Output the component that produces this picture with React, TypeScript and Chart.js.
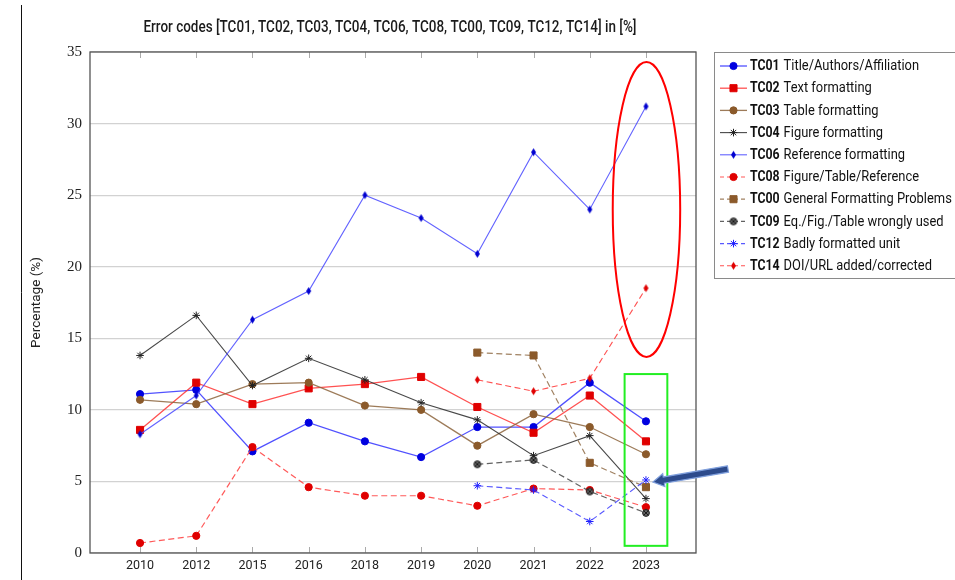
import React, { useEffect, useRef } from 'react';
import { Chart, registerables } from 'chart.js';
import { drawPoint } from 'chart.js/helpers';

Chart.register(...registerables);

// ---------- data ----------
const years = ['2010', '2012', '2015', '2016', '2018', '2019', '2020', '2021', '2022', '2023'];
const codes = ['TC01', 'TC02', 'TC03', 'TC04', 'TC06', 'TC08', 'TC00', 'TC09', 'TC12', 'TC14'];
const descriptions = [
  'Title/Authors/Affiliation',
  'Text formatting',
  'Table formatting',
  'Figure formatting',
  'Reference formatting',
  'Figure/Table/Reference',
  'General Formatting Problems',
  'Eq./Fig./Table wrongly used',
  'Badly formatted unit',
  'DOI/URL added/corrected',
];
const tc01 = [11.1, 11.4, 7.1, 9.1, 7.8, 6.7, 8.8, 8.8, 11.9, 9.2];
const tc02 = [8.6, 11.9, 10.4, 11.5, 11.8, 12.3, 10.2, 8.4, 11.0, 7.8];
const tc03 = [10.7, 10.4, 11.8, 11.9, 10.3, 10.0, 7.5, 9.7, 8.8, 6.9];
const tc04 = [13.8, 16.6, 11.7, 13.6, 12.1, 10.5, 9.3, 6.8, 8.2, 3.8];
const tc06 = [8.3, 11.0, 16.3, 18.3, 25.0, 23.4, 20.9, 28.0, 24.0, 31.2];
const tc08 = [0.7, 1.2, 7.4, 4.6, 4.0, 4.0, 3.3, 4.5, 4.4, 3.2];
const tc00 = [null, null, null, null, null, null, 14.0, 13.8, 6.3, 4.6];
const tc09 = [null, null, null, null, null, null, 6.2, 6.5, 4.3, 2.8];
const tc12 = [null, null, null, null, null, null, 4.7, 4.4, 2.2, 5.1];
const tc14 = [null, null, null, null, null, null, 12.1, 11.3, 12.2, 18.5];
const seriesValues = [tc01, tc02, tc03, tc04, tc06, tc08, tc00, tc09, tc12, tc14];

const titleText = 'Error codes [TC01, TC02, TC03, TC04, TC06, TC08, TC00, TC09, TC12, TC14] in [%]';
const yAxisTitle = 'Percentage (%)';
const yMin = 0;
const yMax = 35;
const yStep = 5;

// ---------- marker helpers ----------
function makeDiamond(color: string, w: number, h: number) {
  const c = document.createElement('canvas');
  c.width = w + 2;
  c.height = h + 2;
  const g = c.getContext('2d')!;
  g.fillStyle = color;
  g.beginPath();
  g.moveTo(c.width / 2, 1);
  g.lineTo(c.width - 1, c.height / 2);
  g.lineTo(c.width / 2, c.height - 1);
  g.lineTo(1, c.height / 2);
  g.closePath();
  g.fill();
  return c;
}
function makeOtimes(fill: string, stroke: string, r: number) {
  const s = Math.ceil(2 * r + 3);
  const c = document.createElement('canvas');
  c.width = s;
  c.height = s;
  const g = c.getContext('2d')!;
  const m = s / 2;
  g.fillStyle = fill;
  g.strokeStyle = stroke;
  g.lineWidth = 1;
  g.beginPath();
  g.arc(m, m, r, 0, Math.PI * 2);
  g.fill();
  g.stroke();
  const d = r * Math.SQRT1_2;
  g.beginPath();
  g.moveTo(m - d, m - d);
  g.lineTo(m + d, m + d);
  g.moveTo(m + d, m - d);
  g.lineTo(m - d, m + d);
  g.stroke();
  return c;
}

function condensedText(ctx: CanvasRenderingContext2D, text: string, x: number, y: number, sx: number) {
  ctx.save();
  ctx.translate(x, y);
  ctx.scale(sx, 1);
  ctx.fillText(text, 0, 0);
  ctx.restore();
  return ctx.measureText(text).width * sx;
}

export default function App() {
  const ref = useRef<HTMLCanvasElement | null>(null);

  useEffect(() => {
    const canvas = ref.current;
    if (!canvas) return;

    const styles = [
      { line: 'rgba(50,50,255,0.85)', marker: '#0000e0', ps: 'circle' as any, r: 3.6, dash: false, w: 1.3 },
      { line: 'rgba(255,50,50,0.85)', marker: '#e00000', ps: 'rect' as any, r: 5, dash: false, w: 1.3 },
      { line: 'rgba(140,100,60,0.85)', marker: '#8b5a2b', ps: 'circle' as any, r: 3.6, dash: false, w: 1.3 },
      { line: 'rgba(40,40,40,0.85)', marker: '#222222', ps: 'star' as any, r: 3.8, dash: false, w: 1.1 },
      { line: 'rgba(70,70,255,0.85)', marker: '#0000d0', ps: makeDiamond('#0000d0', 5, 8), r: 4, dash: false, w: 1.1 },
      { line: 'rgba(255,60,60,0.85)', marker: '#e00000', ps: 'circle' as any, r: 3.6, dash: true, w: 1.2 },
      { line: 'rgba(150,115,80,0.9)', marker: '#8b5a2b', ps: 'rect' as any, r: 5, dash: true, w: 1.2 },
      { line: 'rgba(70,70,70,0.85)', marker: '#444444', ps: makeOtimes('#666666', '#1a1a1a', 3.4), r: 4, dash: true, w: 1.2 },
      { line: 'rgba(60,60,255,0.85)', marker: '#2020ff', ps: 'star' as any, r: 3.8, dash: true, w: 1.1 },
      { line: 'rgba(255,50,50,0.85)', marker: '#e00000', ps: makeDiamond('#e00000', 5, 8), r: 4, dash: true, w: 1.1 },
    ];

    const datasets = seriesValues.map((vals, i) => {
      const st = styles[i];
      return {
        label: codes[i],
        data: vals
          .map((v, j) => (v == null ? null : { x: j, y: v }))
          .filter((p) => p !== null) as { x: number; y: number }[],
        borderColor: st.line,
        backgroundColor: st.marker,
        borderWidth: st.w,
        borderDash: st.dash ? [6, 3.5] : [],
        pointStyle: st.ps,
        pointRadius: st.r,
        pointHoverRadius: st.r,
        pointBackgroundColor: st.marker,
        pointBorderColor: st.marker,
        pointBorderWidth: 1,
        fill: false,
        tension: 0,
        order: 10 - i,
      };
    });

    const decor = {
      id: 'decor',
      beforeDraw(chart: any) {
        const ctx = chart.ctx as CanvasRenderingContext2D;
        ctx.save();
        ctx.fillStyle = '#ffffff';
        ctx.fillRect(0, 0, chart.width, chart.height);
        ctx.strokeStyle = '#111111';
        ctx.lineWidth = 1;
        ctx.beginPath();
        ctx.moveTo(21.5, 5);
        ctx.lineTo(21.5, chart.height);
        ctx.stroke();
        ctx.restore();
      },
      beforeDatasetsDraw(chart: any) {
        const ctx = chart.ctx as CanvasRenderingContext2D;
        const a = chart.chartArea;
        const xs = chart.scales.x;
        ctx.save();
        ctx.strokeStyle = '#aaaaaa';
        ctx.lineWidth = 1;
        for (let i = 0; i < years.length; i++) {
          const px = Math.round(xs.getPixelForValue(i)) + 0.5;
          ctx.beginPath();
          ctx.moveTo(px, a.bottom);
          ctx.lineTo(px, a.bottom - 6);
          ctx.moveTo(px, a.top);
          ctx.lineTo(px, a.top + 6);
          ctx.stroke();
        }
        ctx.strokeStyle = '#555555';
        ctx.lineWidth = 1.3;
        ctx.strokeRect(a.left, a.top, a.right - a.left, a.bottom - a.top);
        ctx.restore();
      },
      afterDraw(chart: any) {
        const ctx = chart.ctx as CanvasRenderingContext2D;
        const a = chart.chartArea;
        const xs = chart.scales.x;
        const ys = chart.scales.y;
        ctx.save();

        // title
        ctx.fillStyle = '#1a1a1a';
        ctx.font = '500 16px Roboto';
        ctx.textBaseline = 'middle';
        ctx.textAlign = 'left';
        const tw = ctx.measureText(titleText).width;
        const targetW = 493;
        const sx = targetW / tw;
        const cx = (a.left + a.right) / 2 - 3;
        condensedText(ctx, titleText, cx - targetW / 2, 28, sx);

        // legend
        const lx = 714.5;
        const ly = 52.5;
        ctx.strokeStyle = '#8a8a8a';
        ctx.lineWidth = 1;
        ctx.strokeRect(lx, ly, 300, 226);
        const rowH = 22.2;
        for (let i = 0; i < codes.length; i++) {
          const ds = chart.data.datasets[i];
          const y = 66 + i * rowH;
          ctx.save();
          ctx.strokeStyle = ds.borderColor;
          ctx.lineWidth = ds.borderWidth;
          ctx.setLineDash(ds.borderDash && ds.borderDash.length ? [4, 3] : []);
          ctx.beginPath();
          ctx.moveTo(720, y);
          ctx.lineTo(747, y);
          ctx.stroke();
          ctx.setLineDash([]);
          ctx.fillStyle = ds.pointBackgroundColor;
          ctx.strokeStyle = ds.pointBorderColor;
          ctx.lineWidth = 1;
          drawPoint(ctx, { pointStyle: ds.pointStyle, rotation: 0, radius: ds.pointRadius, borderWidth: 1 } as any, 733.5, y);
          ctx.restore();

          ctx.fillStyle = '#111111';
          ctx.textBaseline = 'middle';
          ctx.font = 'bold 15px Roboto';
          const bw = condensedText(ctx, codes[i], 750, y + 0.5, 0.82);
          ctx.font = '15px Roboto';
          condensedText(ctx, descriptions[i], 750 + bw + 4, y + 0.5, 0.86);
        }

        // red ellipse around the 2023 peaks
        const ex = xs.getPixelForValue(9);
        const eTop = ys.getPixelForValue(34.3);
        const eBot = ys.getPixelForValue(13.7);
        const erx = xs.getPixelForValue(9.6) - xs.getPixelForValue(9);
        ctx.strokeStyle = '#ff0000';
        ctx.lineWidth = 2;
        ctx.beginPath();
        ctx.ellipse(ex + 0.5, (eTop + eBot) / 2, erx, (eBot - eTop) / 2, 0, 0, Math.PI * 2);
        ctx.stroke();

        // green rectangle
        const gx0 = xs.getPixelForValue(8.62);
        const gx1 = xs.getPixelForValue(9.38);
        const gy0 = ys.getPixelForValue(12.5);
        const gy1 = ys.getPixelForValue(0.5);
        ctx.strokeStyle = '#22ee22';
        ctx.lineWidth = 2;
        ctx.strokeRect(gx0, gy0, gx1 - gx0, gy1 - gy0);

        // arrow pointing to TC12 2023
        const tipX = xs.getPixelForValue(9) + 7;
        const tipY = ys.getPixelForValue(tc12[9] as number) + 2;
        const sX = tipX + 75;
        const sY = tipY - 13;
        const dx = tipX - sX;
        const dy = tipY - sY;
        const len = Math.hypot(dx, dy);
        const ux = dx / len;
        const uy = dy / len;
        const nx = -uy;
        const ny = ux;
        const hw = 3.2;
        const hh = 6.5;
        const hl = 11;
        const bx = tipX - ux * hl;
        const by = tipY - uy * hl;
        ctx.beginPath();
        ctx.moveTo(sX + nx * hw, sY + ny * hw);
        ctx.lineTo(bx + nx * hw, by + ny * hw);
        ctx.lineTo(bx + nx * hh, by + ny * hh);
        ctx.lineTo(tipX, tipY);
        ctx.lineTo(bx - nx * hh, by - ny * hh);
        ctx.lineTo(bx - nx * hw, by - ny * hw);
        ctx.lineTo(sX - nx * hw, sY - ny * hw);
        ctx.closePath();
        ctx.fillStyle = '#2d4b8c';
        ctx.fill();
        ctx.strokeStyle = '#7f9fdc';
        ctx.lineWidth = 1.2;
        ctx.stroke();

        ctx.restore();
      },
    };

    const chart = new Chart(canvas, {
      type: 'line',
      data: { datasets: datasets as any },
      options: {
        animation: false,
        responsive: false,
        devicePixelRatio: 1,
        layout: { padding: { top: 52, right: 259, bottom: 0, left: 0 } },
        plugins: {
          legend: { display: false },
          title: { display: false },
          tooltip: { enabled: false },
        },
        scales: {
          x: {
            type: 'linear',
            min: -0.89,
            max: 9.89,
            afterFit: (s: any) => {
              s.height = 27;
            },
            grid: { display: false, drawTicks: false },
            border: { display: false },
            ticks: {
              stepSize: 1,
              includeBounds: false,
              autoSkip: false,
              maxRotation: 0,
              padding: 5,
              color: '#222222',
              font: { family: 'Roboto', size: 12.5 },
              callback: (v: any) => (Number.isInteger(v) && v >= 0 && v < years.length ? years[v] : ''),
            },
          },
          y: {
            type: 'linear',
            min: yMin,
            max: yMax,
            afterFit: (s: any) => {
              s.width = 90;
            },
            grid: { color: '#d2d2d2', lineWidth: 1.2, drawTicks: false },
            border: { display: false },
            ticks: {
              stepSize: yStep,
              padding: 8,
              color: '#222222',
              font: { family: 'Liberation Serif', size: 15 },
            },
            title: {
              display: true,
              text: yAxisTitle,
              color: '#222222',
              font: { family: 'Roboto', size: 13.5 },
              padding: { top: 29, bottom: 0 },
            },
          },
        },
      },
      plugins: [decor],
    });

    return () => chart.destroy();
  }, []);

  return (
    <div style={{ position: 'fixed', left: 0, top: 0, width: 955, height: 580, background: '#fff' }}>
      <canvas ref={ref} width={955} height={580} style={{ width: 955, height: 580, display: 'block' }} />
    </div>
  );
}
